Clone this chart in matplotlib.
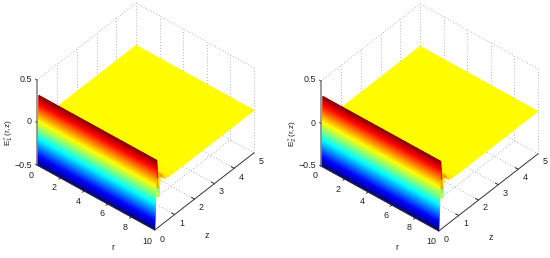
#!/usr/bin/env python3
"""Two 3D surface panels of E*_1(r,z) and E*_2(r,z)."""
import numpy as np
import matplotlib as mpl
mpl.use('Agg')
import matplotlib.pyplot as plt
from matplotlib.colors import LinearSegmentedColormap
from mpl_toolkits.mplot3d import proj3d

mpl.rcParams['font.family'] = ['Liberation Sans', 'DejaVu Sans']
mpl.rcParams['mathtext.fontset'] = 'custom'
mpl.rcParams['mathtext.rm'] = 'Liberation Sans'
mpl.rcParams['mathtext.default'] = 'regular'

# values; both panels look the same
r_values = [0, 1, 2, 3, 4, 5, 6, 7, 8, 9, 10]
# front wall: the rise at z close to 0
wall_z = [0, 0.0025, 0.005, 0.0075, 0.01, 0.0125, 0.015, 0.0175, 0.02, 0.0225,
          0.025, 0.0275, 0.03, 0.0325, 0.035, 0.0375, 0.04, 0.0425, 0.045, 0.0475,
          0.05, 0.0525, 0.055, 0.0575, 0.06, 0.0625, 0.065, 0.0675, 0.07, 0.0725,
          0.075, 0.0775, 0.08, 0.0825, 0.085, 0.0875, 0.09, 0.0925, 0.095, 0.0975, 0.1]
wall_e = [-0.5, -0.48, -0.46, -0.44, -0.42, -0.4, -0.38, -0.36, -0.34, -0.32,
          -0.3, -0.28, -0.26, -0.24, -0.22, -0.2, -0.18, -0.16, -0.14, -0.12,
          -0.1, -0.08, -0.06, -0.04, -0.02, 0, 0.02, 0.04, 0.06, 0.08,
          0.1, 0.12, 0.14, 0.16, 0.18, 0.2, 0.22, 0.24, 0.26, 0.28, 0.3]
# behind the wall: the dip, a small bump, then the flat part
rest_z = [0.1, 0.125, 0.15, 0.175, 0.2, 0.22, 0.24, 0.26, 0.28, 0.3,
          0.35, 0.4, 0.5, 0.7, 1, 2, 3, 4, 5]
rest_e = [0.3, 0.2, 0.08, -0.04, -0.15, -0.1, -0.04, 0.02, 0.07, 0.1,
          0.08, 0.05, 0.02, 0.005, 0, 0, 0, 0, 0]

r_ticks = [0, 2, 4, 6, 8, 10]
z_ticks = [0, 1, 2, 3, 4, 5]
e_ticks = [-0.5, 0, 0.5]
e_tick_labels = ['\u22120.5', '0', '0.5']
panel_labels = ['E$^*_1$(r,z)', 'E$^*_2$(r,z)']

# pixel positions of the text in the left panel (x, y from the top)
R_LABEL_POS = [(31, 175), (54, 188), (78, 201), (102, 214), (125, 227), (147, 241)]
Z_LABEL_POS = [(162, 239), (182, 223), (201, 207), (221, 192), (241, 177), (261, 161)]
E_LABEL_POS = [(32, 165), (32, 122), (32, 79)]
PANEL_SHIFT = [(0, 0), (284, 1)]

W, H = 550, 258
GRID = {'color': '#9a9a9a', 'linestyle': (0, (1, 2.5)), 'linewidth': 0.6, 'zorder': 1}
AXIS = {'color': '#333333', 'linewidth': 0.7, 'zorder': 5}

# MATLAB's jet, yellow sits at 0.625 there
MATLAB_JET = LinearSegmentedColormap('matlab_jet', {
    'red': [(0, 0, 0), (0.375, 0, 0), (0.625, 1, 1), (0.875, 1, 1), (1, 0.5, 0.5)],
    'green': [(0, 0, 0), (0.125, 0, 0), (0.375, 1, 1), (0.625, 1, 1), (0.875, 0, 0), (1, 0, 0)],
    'blue': [(0, 0.5, 0.5), (0.125, 1, 1), (0.375, 1, 1), (0.625, 0, 0), (1, 0, 0)],
})


def px(ax, x, y, z):
    xp, yp, _ = proj3d.proj_transform(x, y, z, ax.get_proj())
    xd, yd = ax.transData.transform((xp, yp))
    return xd, H - yd


def fit_box(fig, ax, dx, dy):
    """Move and scale the square axes so the box corners land on the target pixels."""
    for _ in range(3):
        fig.canvas.draw()
        x0, y0 = px(ax, 0, 0, -0.5)
        x1, _y = px(ax, 10, 5, -0.5)
        scale = (254 - 37) / (x1 - x0)
        bb = ax.get_position()
        side = bb.width * W * scale
        cx = bb.x0 * W + bb.width * W / 2
        cy = bb.y0 * H + bb.height * H / 2
        # corner offset from the centre, after scaling
        ox = (x0 - cx) * scale
        oy = ((H - y0) - cy) * scale
        new_cx = 37 + dx - ox
        new_cy = (H - (165 + dy)) - oy
        ax.set_position([(new_cx - side / 2) / W, (new_cy - side / 2) / H, side / W, side / H])


def draw_sheet(ax, z_list, e_list, zorder):
    rr, zz = np.meshgrid(r_values, z_list)
    ee = np.tile(np.array(e_list)[:, None], (1, len(r_values)))
    face = MATLAB_JET(plt.Normalize(-0.5, 0.3)(ee))
    # edges take the face colours, this closes the gaps between the thin strips
    ax.plot_surface(rr, zz, ee, facecolors=face, rstride=1, cstride=1, shade=False,
                    linewidth=0.6, antialiased=True, zorder=zorder)


def draw_panel(fig, dx, dy, label):
    ax = fig.add_axes([0.05, 0.0, 0.5, 0.5 * W / H], projection='3d', computed_zorder=False)
    ax.set_proj_type('ortho')
    ax.view_init(elev=40.9, azim=-49.9)
    ax.set_box_aspect((1, 1, 0.73))
    ax.set_axis_off()

    # back walls and floor
    for z in z_ticks[1:-1]:
        ax.plot([0, 0], [z, z], [-0.5, 0.5], **GRID)
        ax.plot([0, 10], [z, z], [-0.5, -0.5], **GRID)
    for r in r_ticks[1:-1]:
        ax.plot([r, r], [5, 5], [-0.5, 0.5], **GRID)
        ax.plot([r, r], [0, 5], [-0.5, -0.5], **GRID)
    ax.plot([0, 0, 10], [0, 5, 5], [0.5, 0.5, 0.5], **GRID)
    ax.plot([0, 0], [5, 5], [-0.5, 0.5], **GRID)
    ax.plot([10, 10], [5, 5], [-0.5, 0.5], **GRID)
    ax.plot([0, 10], [5, 5], [-0.5, -0.5], **GRID)

    # surface, the part behind the wall first
    draw_sheet(ax, rest_z, rest_e, 3)
    draw_sheet(ax, wall_z, wall_e, 4)

    # axis lines and ticks
    ax.plot([0, 0], [0, 0], [-0.5, 0.5], color='#808080', linewidth=1.1, zorder=5)
    ax.plot([0, 10], [0, 0], [-0.5, -0.5], **AXIS)
    ax.plot([10, 10], [0, 5], [-0.5, -0.5], **AXIS)
    for r in r_ticks[1:-1]:
        ax.plot([r, r], [0, -0.08], [-0.5, -0.5], **AXIS)
    for z in z_ticks[1:-1]:
        ax.plot([10, 9.75], [z, z], [-0.5, -0.5], **AXIS)
    for e in e_ticks:
        ax.plot([0, -0.12], [0, 0], [e, e], color='#555555', linewidth=0.7, zorder=5)

    ax.set_xlim(0, 10, view_margin=0)
    ax.set_ylim(0, 5, view_margin=0)
    ax.set_zlim(-0.5, 0.5, view_margin=0)
    fit_box(fig, ax, dx, dy)

    # tick labels and axis titles
    def put(x, y, s, size=6.4, **kw):
        kw.setdefault('ha', 'center')
        fig.text((x + dx) / W, 1 - (y + dy) / H, s, fontsize=size, va='center', color='#222222', **kw)

    for (x, y), t in zip(R_LABEL_POS, r_ticks):
        put(x, y, str(t))
    for (x, y), t in zip(Z_LABEL_POS, z_ticks):
        put(x, y, str(t))
    for (x, y), t in zip(E_LABEL_POS, e_tick_labels):
        put(x, y, t, ha='right')
    put(113, 247, 'r')
    put(207, 236, 'z')
    put(9, 133, label, size=6, rotation=90)


if __name__ == '__main__':
    fig = plt.figure(figsize=(W / 100, H / 100), dpi=100)
    for (dx, dy), label in zip(PANEL_SHIFT, panel_labels):
        draw_panel(fig, dx, dy, label)
    fig.savefig('out.png', dpi=100)
